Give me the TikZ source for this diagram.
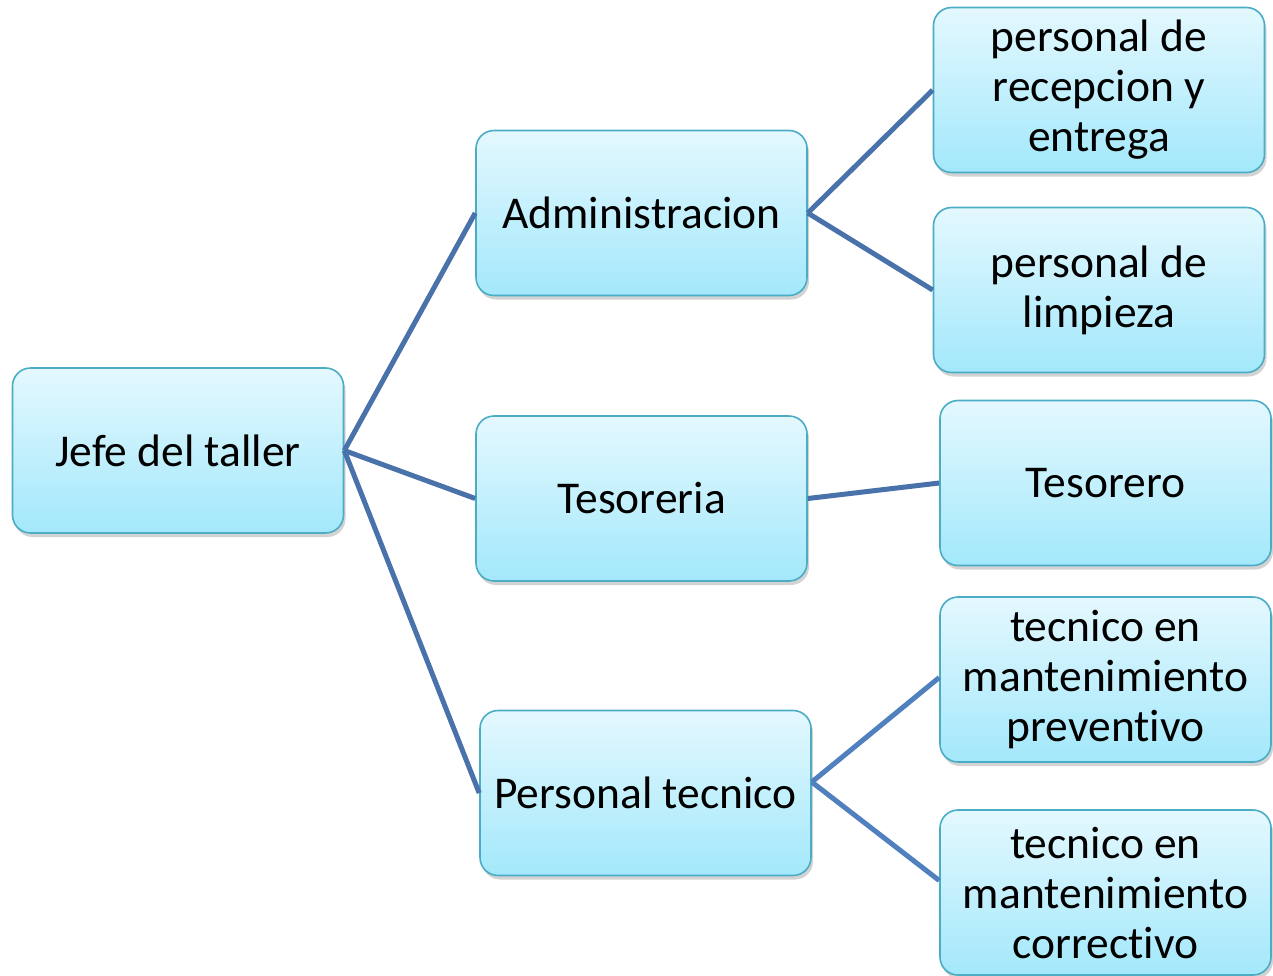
\documentclass[tikz,border=0pt]{standalone}
\usepackage{fontspec}
\setmainfont[Ligatures={NoCommon}]{Carlito}
\usetikzlibrary{shadows}
\definecolor{boxtop}{HTML}{E4F8FE}
\definecolor{boxbot}{HTML}{A3E8FB}
\definecolor{boxline}{HTML}{4BACC6}
\definecolor{conn}{HTML}{4A72AA}
\definecolor{conn2}{HTML}{5080BD}
\tikzset{
  orgbox/.style={draw=boxline, line width=1.6pt, rounded corners=18pt,
    top color=boxtop, bottom color=boxbot, minimum width=331pt, minimum height=165pt,
    align=center, inner sep=2pt, font=\fontsize{45.5pt}{50pt}\selectfont,
    drop shadow={opacity=0.35, shadow xshift=2pt, shadow yshift=-4pt}},
  link/.style={draw=conn, line width=5pt}
}
\begin{document}
\begin{tikzpicture}[x=1pt,y=-1pt]
\useasboundingbox (0,0) rectangle (1273,975);
\node[orgbox] (jefe) at (178,450.5) {Jefe del taller};
\node[orgbox] (adm) at (641.5,213) {Administracion};
\node[orgbox] (tes) at (641.5,498.5) {Tesoreria};
\node[orgbox] (pt) at (645.5,793) {Personal tecnico};
\node[orgbox] (rec) at (1099,90) {personal de\\recepcion y\\entrega};
\node[orgbox] (lim) at (1099,290) {personal de\\limpieza};
\node[orgbox] (tsr) at (1105.5,483) {Tesorero};
\node[orgbox] (prev) at (1105.5,679.5) {tecnico en\\mantenimiento\\preventivo};
\node[orgbox] (corr) at (1105.5,892.5) {tecnico en\\mantenimiento\\correctivo};
\draw[link] (jefe.east) -- (adm.west);
\draw[link] (jefe.east) -- (tes.west);
\draw[link] (jefe.east) -- (pt.west);
\draw[link] (adm.east) -- (rec.west);
\draw[link] (adm.east) -- (lim.west);
\draw[link] (tes.east) -- (tsr.west);
\draw[link, draw=conn2] ([yshift=11pt]pt.east) -- ([yshift=2pt]prev.west);
\draw[link, draw=conn2] ([yshift=11pt]pt.east) -- ([yshift=12pt]corr.west);
\end{tikzpicture}
\end{document}
